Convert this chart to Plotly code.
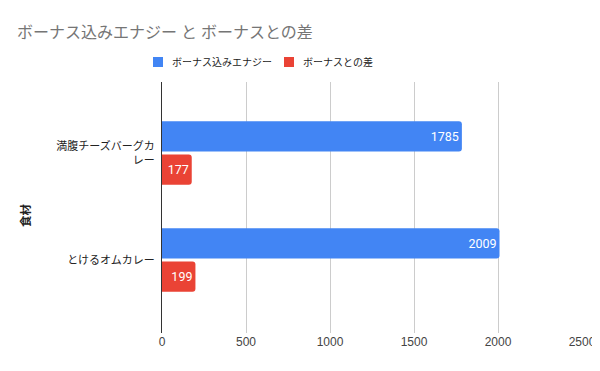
import plotly.graph_objects as go

categories = ["満腹チーズバーグカ<br>レー", "とけるオムカレー"]
series_names = ["ボーナス込みエナジー", "ボーナスとの差"]
energy_with_bonus = [1785, 2009]
bonus_diff = [177, 199]
x_ticks = [0, 500, 1000, 1500, 2000, 2500]

colors = ["#4285F4", "#EA4335"]
font_fam = "Roboto, 'Noto Sans CJK JP', sans-serif"

# page body has an 8px margin, so the figure is 8px smaller each way
W, H = 592, 363
L, R, T, B = 154, 18, 74, 38
PW, PH = W - L - R, H - T - B

def px_x(px):  # figure px -> paper x
    return (px - L) / PW

def px_y(py):  # figure px (from top) -> paper y
    return (H - B - py) / PH

fig = go.Figure()
for name, vals, c in zip(series_names, [energy_with_bonus, bonus_diff], colors):
    fig.add_trace(go.Bar(
        y=categories, x=vals, name=name, orientation="h", showlegend=False,
        marker=dict(color=c, cornerradius=3, line=dict(width=0)),
        text=[str(v) for v in vals], textposition="inside",
        insidetextanchor="end",
        textfont=dict(color="white", size=12.5, family=font_fam),
    ))

# legend drawn as swatches + labels (Google-style spacing)
legend_swatch_x = [145, 276]
shapes, annotations = [], []
for name, c, sx in zip(series_names, colors, legend_swatch_x):
    shapes.append(dict(type="rect", xref="paper", yref="paper",
                       x0=px_x(sx), x1=px_x(sx + 10), y0=px_y(59), y1=px_y(49),
                       fillcolor=c, line=dict(width=0)))
    annotations.append(dict(text=name, xref="paper", yref="paper",
                            x=px_x(sx + 17), y=px_y(54), xanchor="left", yanchor="middle",
                            showarrow=False, font=dict(size=10, color="#222222")))
annotations.append(dict(text="<b>食材</b>", textangle=-90, xref="paper", yref="paper",
                        x=px_x(17.5), y=px_y(207.5), showarrow=False,
                        xanchor="center", yanchor="middle",
                        font=dict(size=11.5, color="#222222")))

fig.update_layout(
    width=W, height=H,
    margin=dict(l=L, r=R, t=T, b=B, autoexpand=False),
    paper_bgcolor="white", plot_bgcolor="white",
    barmode="group", bargap=0.38, bargroupgap=0.09,
    font=dict(family=font_fam, size=12, color="#222222"),
    title=dict(text="ボーナス込みエナジー と ボーナスとの差", x=9 / W, xanchor="left",
               y=1 - 24 / H, yanchor="middle",
               font=dict(size=16, color="#757575", family=font_fam)),
    showlegend=False,
    uniformtext=dict(minsize=8, mode="show"),
    shapes=shapes,
    annotations=annotations,
)
fig.update_xaxes(range=[0, 2500], tickvals=x_ticks, showgrid=True, gridcolor="#cccccc",
                 gridwidth=1, zeroline=False, showline=False, automargin=False,
                 tickfont=dict(size=12, color="#444444", family="Arial, 'Liberation Sans'"))
fig.update_yaxes(type="category", range=[1.682, -0.664], showgrid=False,
                 showline=True, linecolor="#333333", linewidth=1, automargin=False,
                 ticks="", ticklabelstandoff=4,
                 tickfont=dict(size=11, color="#222222"))

fig.write_html("out.html")
